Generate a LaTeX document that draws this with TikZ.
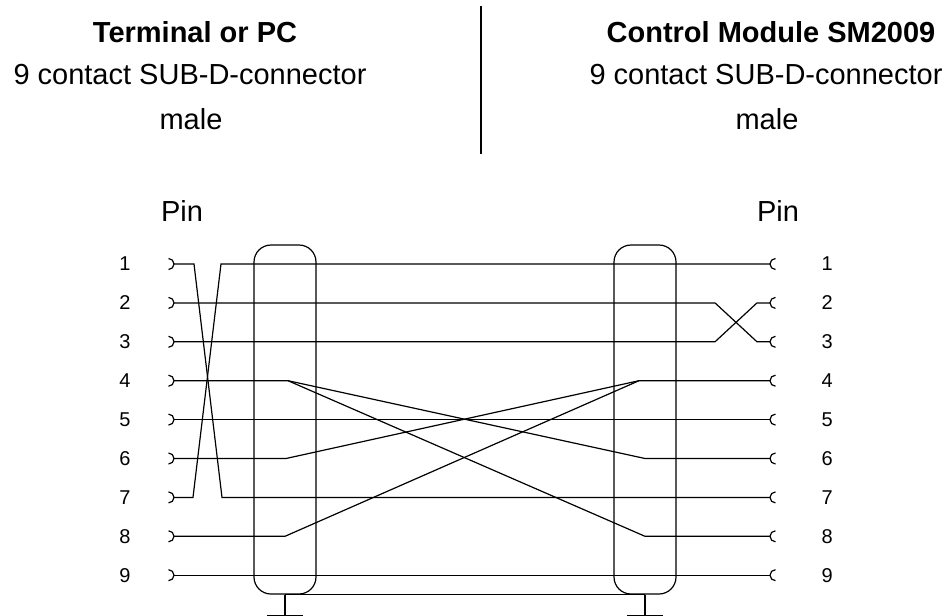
\documentclass[tikz,border=0pt]{standalone}
\usepackage{fontspec}
\setmainfont{Liberation Sans}
\begin{document}
\begin{tikzpicture}[x=1pt,y=-1pt,line width=1.2pt,
    titulo/.style={font=\fontsize{29}{29}\selectfont\bfseries,anchor=base,inner sep=0pt},
    texto/.style={font=\fontsize{29}{29}\selectfont,anchor=base,inner sep=0pt},
    numero/.style={font=\fontsize{20}{20}\selectfont,inner sep=0pt},
    malla/.style={draw,rounded corners=17pt,minimum width=62pt,minimum height=349pt,inner sep=0pt}]
        \useasboundingbox (0,0) rectangle (951,616);
        %Cabecera
        \begin{scope}
            \node[titulo] (tpc) at (195,42) {Terminal or PC};
            \node[texto] (subl) at (190,84) {9 contact SUB-D-connector};
            \node[texto] (malel) at (191,129) {male};
            \node[texto] (pinl) at (182,221) {Pin};
            \node[titulo] (tsm) at (771,42) {Control Module SM2009};
            \node[texto] (subr) at (766,84) {9 contact SUB-D-connector};
            \node[texto] (maler) at (767,129) {male};
            \node[texto] (pinr) at (778,221) {Pin};
            \draw[line width=2pt] (481,6) -- (481,154);
        \end{scope}
        %Contactos y numeracion
        \foreach \i in {1,...,9}{
            \pgfmathsetmacro\yy{264+(\i-1)*38.9}
            \coordinate (L\i) at (174,\yy);
            \coordinate (R\i) at (770,\yy);
            \node[numero,anchor=east] (nl\i) at (131,\yy) {\i};
            \node[numero,anchor=west] (nr\i) at (821,\yy) {\i};
            \draw (168.5,\yy-5.5) arc[start angle=-90,end angle=90,radius=5.5];
            \draw (775.5,\yy+5.5) arc[start angle=90,end angle=270,radius=5.5];
        }
        %Mallas
        \node[malla] (mallaL) at (285,419.5) {};
        \node[malla] (mallaR) at (645,419.5) {};
        \draw (mallaL.south) -- (mallaR.south);
        \draw (mallaL.south) -- ++(0,21) coordinate (tierraL);
        \draw (mallaR.south) -- ++(0,21) coordinate (tierraR);
        \draw ([xshift=-18pt]tierraL) -- ([xshift=18pt]tierraL);
        \draw ([xshift=-18pt]tierraR) -- ([xshift=18pt]tierraR);
        %Hilos
        \coordinate (c4) at ([xshift=114pt]L4);
        \coordinate (c6) at ([xshift=112pt]L6);
        \coordinate (c8) at ([xshift=111pt]L8);
        \coordinate (d4) at ([xshift=-131pt]R4);
        \coordinate (d6) at ([xshift=-125pt]R6);
        \coordinate (d8) at ([xshift=-125pt]R8);
        \draw (L1) -- ([xshift=20pt]L1) -- ([xshift=48pt]L7) -- (R7);
        \draw (L7) -- ([xshift=19pt]L7) -- ([xshift=47pt]L1) -- (R1);
        \draw (L2) -- ([xshift=-55pt]R2) -- ([xshift=-13pt]R3) -- (R3);
        \draw (L3) -- ([xshift=-55pt]R3) -- ([xshift=-13pt]R2) -- (R2);
        \draw (L4) -- (c4) -- (d6) -- (R6);
        \draw (c4) -- (d8) -- (R8);
        \draw (L6) -- (c6) -- (d4) -- (R4);
        \draw (L8) -- (c8) -- (d4);
        \draw (L5) -- (R5);
        \draw (L9) -- (R9);
    \end{tikzpicture}
\end{document}
